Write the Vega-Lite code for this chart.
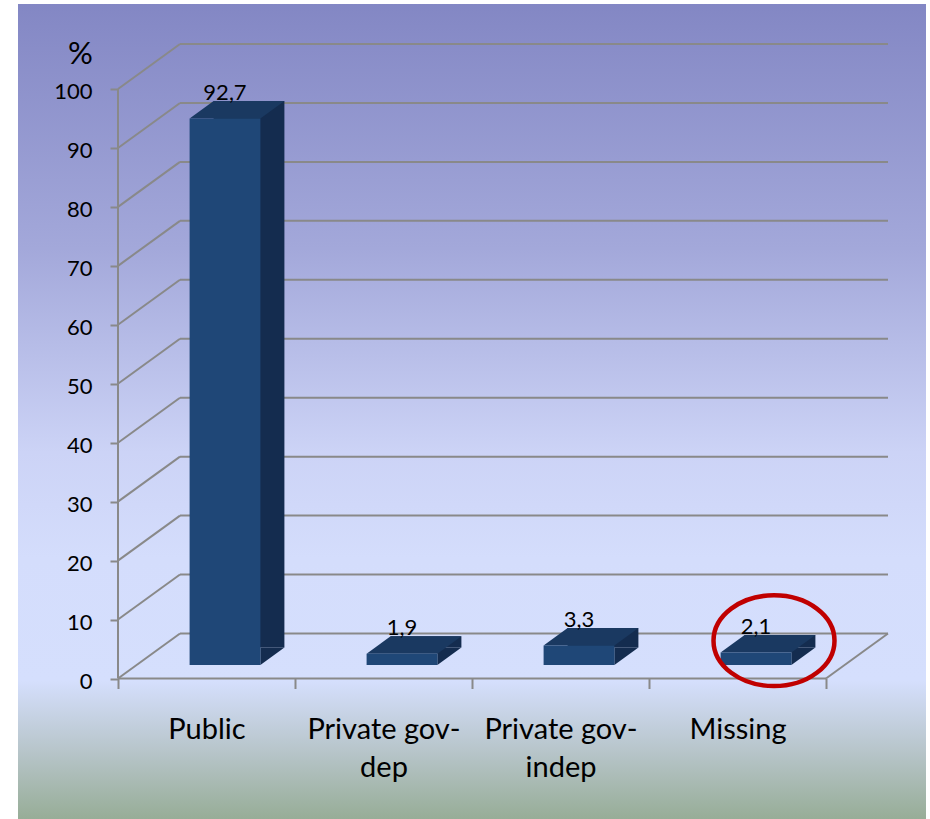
{
  "$schema": "https://vega.github.io/schema/vega-lite/v6.json",
  "width": 908,
  "height": 815,
  "autosize": {"type": "none"},
  "padding": {"left": 18, "top": 4, "right": 4, "bottom": 0},
  "background": "#ffffff",
  "view": {
    "stroke": null,
    "fill": {
      "gradient": "linear", "x1": 0, "y1": 0, "x2": 0, "y2": 1,
      "stops": [
        {"offset": 0, "color": "#8387c4"},
        {"offset": 0.30, "color": "#a3a8da"},
        {"offset": 0.55, "color": "#ccd3f6"},
        {"offset": 0.68, "color": "#d4ddfc"},
        {"offset": 0.83, "color": "#d5dffd"},
        {"offset": 0.92, "color": "#b6c4c8"},
        {"offset": 1, "color": "#97ad97"}
      ]
    }
  },
  "config": {
    "font": "Lato",
    "locale": {"number": {"decimal": ",", "thousands": ".", "grouping": [3], "currency": ["", " €"]}}
  },
  "datasets": {
    "shares": [
      {"cat": "Public", "value": 92.7, "circled": false},
      {"cat": "Private gov-dep", "value": 1.9, "circled": false},
      {"cat": "Private gov-indep", "value": 3.3, "circled": false},
      {"cat": "Missing", "value": 2.1, "circled": true}
    ],
    "grid": [
      {"v": 0}, {"v": 10}, {"v": 20}, {"v": 30}, {"v": 40}, {"v": 50},
      {"v": 60}, {"v": 70}, {"v": 80}, {"v": 90}, {"v": 100}
    ]
  },
  "layer": [
    {
      "data": {"name": "grid"},
      "mark": {"type": "rule", "color": "#898989", "strokeWidth": 2, "xOffset": -88.5, "x2Offset": 88.5},
      "encoding": {
        "x": {"datum": "Public", "type": "nominal", "scale": {"type": "band", "domain": ["Public", "Private gov-dep", "Private gov-indep", "Missing"], "paddingInner": 0, "paddingOuter": 0.56497, "align": 0.81}},
        "x2": {"datum": "Missing"},
        "y": {"field": "v", "type": "quantitative", "scale": {"domain": [-31.467, 106.785], "nice": false, "zero": false}}
      }
    },
    {
      "data": {"name": "grid"},
      "mark": {"type": "rule", "color": "#898989", "strokeWidth": 2, "xOffset": -88.5, "x2Offset": -150.5, "y2Offset": 45},
      "encoding": {
        "x": {"datum": "Public", "type": "nominal", "scale": {"type": "band", "domain": ["Public", "Private gov-dep", "Private gov-indep", "Missing"], "paddingInner": 0, "paddingOuter": 0.56497, "align": 0.81}},
        "x2": {"datum": "Public"},
        "y": {"field": "v", "type": "quantitative", "scale": {"domain": [-31.467, 106.785], "nice": false, "zero": false}},
        "y2": {"field": "v"}
      }
    },
    {
      "data": {"name": "grid"},
      "transform": [{"filter": "datum.v == 0"}],
      "mark": {"type": "rule", "color": "#898989", "strokeWidth": 2, "xOffset": 88.5, "x2Offset": 26.5, "y2Offset": 45},
      "encoding": {
        "x": {"datum": "Missing", "type": "nominal", "scale": {"type": "band", "domain": ["Public", "Private gov-dep", "Private gov-indep", "Missing"], "paddingInner": 0, "paddingOuter": 0.56497, "align": 0.81}},
        "x2": {"datum": "Missing"},
        "y": {"field": "v", "type": "quantitative", "scale": {"domain": [-31.467, 106.785], "nice": false, "zero": false}},
        "y2": {"field": "v"}
      }
    },
    {
      "data": {"name": "grid"},
      "transform": [{"filter": "datum.v == 0"}],
      "mark": {"type": "rule", "color": "#898989", "strokeWidth": 2, "xOffset": -150.5, "x2Offset": 26.5, "yOffset": 45},
      "encoding": {
        "x": {"datum": "Public", "type": "nominal", "scale": {"type": "band", "domain": ["Public", "Private gov-dep", "Private gov-indep", "Missing"], "paddingInner": 0, "paddingOuter": 0.56497, "align": 0.81}},
        "x2": {"datum": "Missing"},
        "y": {"field": "v", "type": "quantitative", "scale": {"domain": [-31.467, 106.785], "nice": false, "zero": false}}
      }
    },
    {
      "data": {"name": "grid"},
      "transform": [{"filter": "datum.v == 0"}],
      "mark": {"type": "rule", "color": "#898989", "strokeWidth": 2, "xOffset": -150.5, "yOffset": 45, "y2Offset": 45},
      "encoding": {
        "x": {"datum": "Public", "type": "nominal", "scale": {"type": "band", "domain": ["Public", "Private gov-dep", "Private gov-indep", "Missing"], "paddingInner": 0, "paddingOuter": 0.56497, "align": 0.81}},
        "y": {"datum": 0, "type": "quantitative", "scale": {"domain": [-31.467, 106.785], "nice": false, "zero": false}},
        "y2": {"datum": 100}
      }
    },
    {
      "data": {"name": "shares"},
      "mark": {"type": "bar", "color": "#142c4f", "opacity": 1, "width": {"band": 0.4}, "xOffset": -19.5, "x2Offset": -19.5, "yOffset": 14, "y2Offset": 14},
      "encoding": {
        "x": {"field": "cat", "type": "nominal", "sort": null, "scale": {"type": "band", "domain": ["Public", "Private gov-dep", "Private gov-indep", "Missing"], "paddingInner": 0, "paddingOuter": 0.56497, "align": 0.81}},
        "y": {"field": "value", "type": "quantitative", "scale": {"domain": [-31.467, 106.785], "nice": false, "zero": false}},
        "y2": {"datum": 0}
      }
    },
    {
      "data": {"name": "shares"},
      "mark": {"type": "point", "shape": "M35.4,0L59.4,-17.5L35.4,-17.5Z", "size": 4, "filled": true, "color": "#142c4f", "opacity": 1, "strokeWidth": 0, "xOffset": -43.5, "yOffset": 31.5},
      "encoding": {
        "x": {"field": "cat", "type": "nominal", "sort": null, "scale": {"type": "band", "domain": ["Public", "Private gov-dep", "Private gov-indep", "Missing"], "paddingInner": 0, "paddingOuter": 0.56497, "align": 0.81}},
        "y": {"datum": 0, "type": "quantitative", "scale": {"domain": [-31.467, 106.785], "nice": false, "zero": false}}
      }
    },
    {
      "data": {"name": "shares"},
      "mark": {"type": "point", "shape": "M-35.4,0L35.4,0L59.4,-17.5L-11.4,-17.5Z", "size": 4, "filled": true, "color": "#1a3961", "opacity": 1, "strokeWidth": 0, "xOffset": -43.5, "yOffset": 31.5},
      "encoding": {
        "x": {"field": "cat", "type": "nominal", "sort": null, "scale": {"type": "band", "domain": ["Public", "Private gov-dep", "Private gov-indep", "Missing"], "paddingInner": 0, "paddingOuter": 0.56497, "align": 0.81}},
        "y": {"field": "value", "type": "quantitative", "scale": {"domain": [-31.467, 106.785], "nice": false, "zero": false}}
      }
    },
    {
      "data": {"name": "shares"},
      "mark": {"type": "bar", "color": "#1f4777", "opacity": 1, "width": {"band": 0.4}, "xOffset": -43.5, "x2Offset": -43.5, "yOffset": 31.5, "y2Offset": 31.5},
      "encoding": {
        "x": {
          "field": "cat", "type": "nominal", "sort": null,
          "scale": {"type": "band", "domain": ["Public", "Private gov-dep", "Private gov-indep", "Missing"], "paddingInner": 0, "paddingOuter": 0.56497, "align": 0.81},
          "axis": {
            "orient": "bottom", "offset": -140.5, "position": -62, "zindex": 1,
            "domain": false, "grid": false, "ticks": true, "tickBand": "extent",
            "tickSize": 10, "tickWidth": 2, "tickColor": "#898989",
            "labelFont": "Lato", "labelFontSize": 29, "labelColor": "#000000",
            "labelPadding": 27, "labelBaseline": "top", "labelLineHeight": 38,
            "labelAlign": "center",
            "labelAngle": 0, "labelOverlap": false, "labelBound": false, "labelLimit": 0,
            "labelExpr": "datum.label == 'Private gov-dep' ? ['Private gov-', 'dep'] : datum.label == 'Private gov-indep' ? ['Private gov-', 'indep'] : datum.label",
            "title": null
          }
        },
        "y": {
          "field": "value", "type": "quantitative",
          "scale": {"domain": [-31.467, 106.785], "nice": false, "zero": false},
          "axis": {
            "orient": "left", "offset": -100, "position": 45, "zindex": 1,
            "values": [0, 10, 20, 30, 40, 50, 60, 70, 80, 90, 100],
            "domain": false, "grid": false, "ticks": true,
            "tickSize": 8, "tickWidth": 2, "tickColor": "#898989",
            "labelFont": "Lato", "labelFontSize": 22, "labelColor": "#000000",
            "labelPadding": 18, "labelBaseline": "alphabetic", "labelOffset": 10,
            "labelOverlap": false, "labelBound": false, "format": "d",
            "title": "%", "titleAngle": 0, "titleX": -38, "titleY": 14.5,
            "titleAlign": "center", "titleBaseline": "alphabetic",
            "titleFont": "Lato", "titleFontSize": 31, "titleFontWeight": "normal", "titleColor": "#000000"
          }
        },
        "y2": {"datum": 0}
      }
    },
    {
      "data": {"name": "shares"},
      "mark": {"type": "text", "font": "Lato", "fontSize": 22, "color": "#000000", "align": "center", "baseline": "alphabetic", "xOffset": -43.5, "yOffset": 13},
      "encoding": {
        "x": {"field": "cat", "type": "nominal", "sort": null, "scale": {"type": "band", "domain": ["Public", "Private gov-dep", "Private gov-indep", "Missing"], "paddingInner": 0, "paddingOuter": 0.56497, "align": 0.81}},
        "y": {"field": "value", "type": "quantitative", "scale": {"domain": [-31.467, 106.785], "nice": false, "zero": false}},
        "text": {"field": "value", "type": "quantitative", "format": ".1f"}
      }
    },
    {
      "data": {"name": "shares"},
      "transform": [{"filter": "datum.circled"}],
      "mark": {"type": "point", "shape": "M-60.5,0A60.5,45.4 0 1,0 60.5,0A60.5,45.4 0 1,0 -60.5,0Z", "size": 4, "filled": false, "color": "#c00000", "opacity": 1, "strokeWidth": 4.5, "xOffset": -25.5, "yOffset": 19.6},
      "encoding": {
        "x": {"field": "cat", "type": "nominal", "sort": null, "scale": {"type": "band", "domain": ["Public", "Private gov-dep", "Private gov-indep", "Missing"], "paddingInner": 0, "paddingOuter": 0.56497, "align": 0.81}},
        "y": {"field": "value", "type": "quantitative", "scale": {"domain": [-31.467, 106.785], "nice": false, "zero": false}}
      }
    }
  ]
}
